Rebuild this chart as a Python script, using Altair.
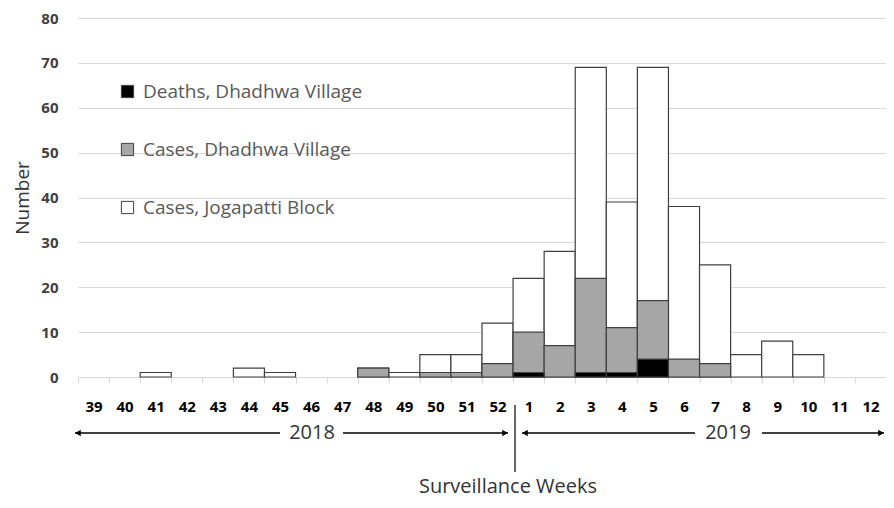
import altair as alt
import pandas as pd

weeks = ["39", "40", "41", "42", "43", "44", "45", "46", "47", "48", "49", "50", "51", "52",
         "1", "2", "3", "4", "5", "6", "7", "8", "9", "10", "11", "12"]
jogapatti = [0, 0, 1, 0, 0, 2, 1, 0, 0, 2, 1, 5, 5, 12, 22, 28, 69, 39, 69, 38, 25, 5, 8, 5, 0, 0]
village = [0, 0, 0, 0, 0, 0, 0, 0, 0, 2, 0, 1, 1, 3, 10, 7, 22, 11, 17, 4, 3, 0, 0, 0, 0, 0]
deaths = [0, 0, 0, 0, 0, 0, 0, 0, 0, 0, 0, 0, 0, 0, 1, 0, 1, 1, 4, 0, 0, 0, 0, 0, 0, 0]

series_names = ["Deaths, Dhadhwa Village", "Cases, Dhadhwa Village", "Cases, Jogapatti Block"]
series_colors = ["#000000", "#a6a6a6", "#ffffff"]

rows = []
for name, vals in [(series_names[2], jogapatti), (series_names[1], village), (series_names[0], deaths)]:
    for w, v in zip(weeks, vals):
        if v > 0:
            rows.append({"week": w, "value": v, "series": name})
df = pd.DataFrame(rows)

W, H = 808, 359
TOP = 18  # page y of plot top
FONT = "Open Sans"

bars = alt.Chart(df).mark_bar(stroke="#404040", strokeWidth=1.2).encode(
    x=alt.X("week:N", sort=weeks, scale=alt.Scale(domain=weeks, paddingInner=0, paddingOuter=0),
            axis=alt.Axis(title=None, labelAngle=0, labelFont=FONT, labelFontWeight="bold",
                          labelFontSize=15, labelColor="#000000", labelPadding=16,
                          tickBand="extent", tickColor="#d9d9d9", tickSize=6,
                          domainColor="#d9d9d9", grid=False)),
    y=alt.Y("value:Q", stack=None, scale=alt.Scale(domain=[0, 80], nice=False),
            axis=alt.Axis(title="Number", values=list(range(0, 81, 10)), labelFont=FONT,
                          labelFontWeight="bold", labelFontSize=15, labelColor="#404040",
                          labelPadding=20, ticks=False, domain=False, gridColor="#d9d9d9",
                          titleFont=FONT, titleFontSize=19, titleFontWeight="normal",
                          titleColor="#333333", titlePadding=8)),
    color=alt.Color("series:N", scale=alt.Scale(domain=series_names, range=series_colors),
                    legend=alt.Legend(title=None, orient="none", legendX=40, legendY=64,
                                      symbolType="square", symbolSize=150,
                                      symbolStrokeColor="#404040", symbolStrokeWidth=1,
                                      labelFont=FONT, labelFontSize=19, labelColor="#595959",
                                      labelOffset=6, rowPadding=38, labelLimit=500)),
)

AY = 433 - TOP  # arrow row


def hrule(x1, x2):
    return alt.Chart(pd.DataFrame({"a": [0]})).mark_rule(color="#000000", strokeWidth=1.5).encode(
        x=alt.value(x1), x2=alt.value(x2), y=alt.value(AY))


segs = [hrule(-3, 202), hrule(265, 430), hrule(444, 617), hrule(684, 806)]

divider = alt.Chart(pd.DataFrame({"a": [0]})).mark_rule(color="#000000", strokeWidth=1.2).encode(
    x=alt.value(437), y=alt.value(405 - TOP), y2=alt.value(472 - TOP))


def head(xp, shape):
    return alt.Chart(pd.DataFrame({"a": [0]})).mark_point(
        shape=shape, filled=True, color="#000000", size=40, opacity=1).encode(
        x=alt.value(xp), y=alt.value(AY))


heads = [head(0, "triangle-left"), head(427, "triangle-right"),
         head(447, "triangle-left"), head(803, "triangle-right")]


def label(txt, xp, yp, size):
    return alt.Chart(pd.DataFrame({"t": [txt]})).mark_text(
        font=FONT, fontSize=size, color="#333333", align="center", baseline="middle").encode(
        text="t:N", x=alt.value(xp), y=alt.value(yp))


texts = [label("2018", 234, AY, 20), label("2019", 650, AY, 20),
         label("Surveillance Weeks", 430, 487 - TOP, 20)]

chart = alt.layer(bars, divider, *segs, *heads, *texts).properties(
    width=W, height=H,
    autosize=alt.AutoSizeParams(type="none"),
    padding={"left": 70, "top": TOP - 8, "right": 0, "bottom": 492 - (TOP - 8) - H},
).configure_view(stroke=None)

chart.save("out.html", embed_options={"renderer": "svg", "actions": False})
